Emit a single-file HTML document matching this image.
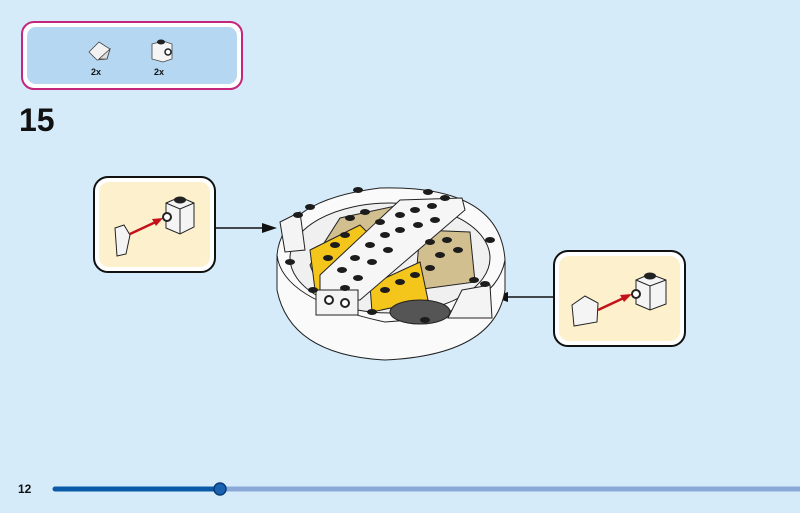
<!DOCTYPE html>
<html><head><meta charset="utf-8"><style>
html,body{margin:0;padding:0;background:#d5ebfa;}
svg{display:block}
</style></head><body>
<svg width="800" height="513" viewBox="0 0 800 513" xmlns="http://www.w3.org/2000/svg">
<rect width="800" height="513" fill="#d5ebfa"/>
<!-- parts box -->
<rect x="22" y="22" width="220" height="67" rx="12" fill="#fff" stroke="#c4267c" stroke-width="2"/>
<rect x="27" y="27" width="210" height="57" rx="9" fill="#b5d7f2"/>
<path d="M89 52 L99 42 L110 49 L107 59 L97 60 Z" fill="#f2f2f2" stroke="#444" stroke-width="0.8"/>
<path d="M99 59 L107 59 L110 49 Z" fill="#ddd" stroke="#444" stroke-width="0.8"/>
<text x="96" y="75" font-family="Liberation Sans, sans-serif" font-weight="bold" font-size="9" text-anchor="middle" fill="#111">2x</text>
<path d="M152 44 L163 41 L172 44 L172 59 L163 62 L152 59 Z" fill="#f5f5f5" stroke="#444" stroke-width="0.8"/>
<ellipse cx="161" cy="42" rx="4" ry="2.5" fill="#222"/>
<circle cx="168" cy="52" r="3" fill="#fff" stroke="#222" stroke-width="1.5"/>
<text x="159" y="75" font-family="Liberation Sans, sans-serif" font-weight="bold" font-size="9" text-anchor="middle" fill="#111">2x</text>
<text x="19" y="131" font-family="Liberation Sans, sans-serif" font-weight="bold" font-size="32" fill="#111">15</text>

<!-- left callout -->
<rect x="94" y="177" width="121" height="95" rx="14" fill="#fff" stroke="#111" stroke-width="2"/>
<rect x="99" y="182" width="111" height="85" rx="10" fill="#fdf1cd"/>
<path d="M115 228 L124 225 L130 235 L126 254 L117 256 Z" fill="#f4f4f4" stroke="#222" stroke-width="1"/>
<line x1="130" y1="234" x2="160" y2="220" stroke="#c4121a" stroke-width="2.5"/>
<path d="M163 218 L152 219 L156 226 Z" fill="#c4121a"/>
<path d="M166 203 L180 197 L194 203 L194 227 L180 234 L166 228 Z" fill="#f4f4f4" stroke="#222" stroke-width="1"/>
<path d="M166 203 L180 209 L194 203 M180 209 L180 234" fill="none" stroke="#222" stroke-width="1"/>
<ellipse cx="180" cy="200" rx="6" ry="3.5" fill="#222"/>
<circle cx="167" cy="217" r="4" fill="#fff" stroke="#222" stroke-width="2"/>
<line x1="216" y1="228" x2="265" y2="228" stroke="#111" stroke-width="1.5"/>
<path d="M277 228 L262 223 L262 233 Z" fill="#111"/>

<!-- right callout -->
<rect x="554" y="251" width="131" height="95" rx="14" fill="#fff" stroke="#111" stroke-width="2"/>
<rect x="559" y="256" width="121" height="85" rx="10" fill="#fdf1cd"/>
<path d="M572 305 L585 296 L598 303 L597 322 L574 326 Z" fill="#f4f4f4" stroke="#222" stroke-width="1"/>
<line x1="598" y1="310" x2="628" y2="296" stroke="#c4121a" stroke-width="2.5"/>
<path d="M632 294 L620 295 L624 302 Z" fill="#c4121a"/>
<path d="M636 280 L650 274 L666 280 L666 304 L650 310 L636 304 Z" fill="#f4f4f4" stroke="#222" stroke-width="1"/>
<path d="M636 280 L650 286 L666 280 M650 286 L650 310" fill="none" stroke="#222" stroke-width="1"/>
<ellipse cx="650" cy="276" rx="6" ry="3.5" fill="#222"/>
<circle cx="636" cy="294" r="4" fill="#fff" stroke="#222" stroke-width="2"/>
<line x1="553" y1="297" x2="505" y2="297" stroke="#111" stroke-width="1.5"/>
<path d="M493 297 L508 292 L508 302 Z" fill="#111"/>

<!-- model -->
<g stroke="#222" stroke-width="1">
<path d="M277 255 Q282 200 380 188 Q500 185 505 260 L505 290 Q495 355 385 360 Q290 355 277 290 Z" fill="#fafafa"/>
<path d="M277 255 Q282 300 385 322 Q495 315 505 260" fill="none"/>
<ellipse cx="390" cy="258" rx="100" ry="55" fill="#f0f0f0"/>
<path d="M310 265 L340 218 L400 205 L420 215 L360 290 L320 290 Z" fill="#d2bf8f"/>
<path d="M310 250 L360 225 L370 235 L325 290 L315 290 Z" fill="#f4c51a"/>
<path d="M420 230 L470 232 L475 282 L415 290 Z" fill="#d2bf8f"/>
<path d="M370 285 L420 262 L428 300 L372 312 Z" fill="#f4c51a"/>
<ellipse cx="420" cy="312" rx="30" ry="12" fill="#555"/>
<path d="M320 275 L400 200 L462 198 L465 210 L360 300 L320 300 Z" fill="#f6f6f6"/>
<rect x="316" y="290" width="42" height="25" fill="#f4f4f4"/>
<path d="M280 222 L300 212 L305 250 L285 252 Z" fill="#f4f4f4"/>
<path d="M462 290 L490 285 L492 318 L448 318 Z" fill="#f4f4f4"/>
</g>
<g fill="#1c1c1c">
<ellipse cx="358" cy="190" rx="5" ry="3"/><ellipse cx="428" cy="192" rx="5" ry="3"/><ellipse cx="445" cy="198" rx="5" ry="3"/>
<ellipse cx="310" cy="207" rx="5" ry="3"/><ellipse cx="298" cy="215" rx="5" ry="3"/><ellipse cx="490" cy="240" rx="5" ry="3"/>
<ellipse cx="290" cy="262" rx="5" ry="3"/><ellipse cx="485" cy="284" rx="5" ry="3"/><ellipse cx="372" cy="312" rx="5" ry="3"/>
<ellipse cx="425" cy="320" rx="5" ry="3"/><ellipse cx="474" cy="280" rx="5" ry="3"/><ellipse cx="313" cy="290" rx="5" ry="3"/>
<ellipse cx="350" cy="218" rx="5" ry="3"/><ellipse cx="365" cy="212" rx="5" ry="3"/><ellipse cx="380" cy="222" rx="5" ry="3"/>
<ellipse cx="400" cy="215" rx="5" ry="3"/><ellipse cx="415" cy="210" rx="5" ry="3"/><ellipse cx="432" cy="206" rx="5" ry="3"/>
<ellipse cx="385" cy="235" rx="5" ry="3"/><ellipse cx="400" cy="230" rx="5" ry="3"/><ellipse cx="418" cy="225" rx="5" ry="3"/>
<ellipse cx="435" cy="220" rx="5" ry="3"/><ellipse cx="370" cy="245" rx="5" ry="3"/><ellipse cx="388" cy="250" rx="5" ry="3"/>
<ellipse cx="355" cy="258" rx="5" ry="3"/><ellipse cx="372" cy="262" rx="5" ry="3"/><ellipse cx="342" cy="270" rx="5" ry="3"/>
<ellipse cx="358" cy="278" rx="5" ry="3"/><ellipse cx="345" cy="288" rx="5" ry="3"/>
<ellipse cx="430" cy="242" rx="5" ry="3"/><ellipse cx="447" cy="240" rx="5" ry="3"/><ellipse cx="440" cy="255" rx="5" ry="3"/>
<ellipse cx="458" cy="250" rx="5" ry="3"/><ellipse cx="385" cy="290" rx="5" ry="3"/><ellipse cx="400" cy="282" rx="5" ry="3"/>
<ellipse cx="415" cy="275" rx="5" ry="3"/><ellipse cx="430" cy="268" rx="5" ry="3"/>
<ellipse cx="328" cy="258" rx="5" ry="3"/><ellipse cx="335" cy="245" rx="5" ry="3"/><ellipse cx="345" cy="235" rx="5" ry="3"/>
</g>
<circle cx="329" cy="300" r="4" fill="#fff" stroke="#222" stroke-width="2"/>
<circle cx="345" cy="303" r="4" fill="#fff" stroke="#222" stroke-width="2"/>

<!-- footer -->
<text x="18" y="493" font-family="Liberation Sans, sans-serif" font-weight="bold" font-size="12" fill="#111">12</text>
<line x1="220" y1="489" x2="800" y2="489" stroke="#8aa8d8" stroke-width="5"/>
<line x1="55" y1="489" x2="220" y2="489" stroke="#0a5aa8" stroke-width="5" stroke-linecap="round"/>
<circle cx="220" cy="489" r="6" fill="#1a63b0" stroke="#0a3a78" stroke-width="1.5"/>
</svg>
</body></html>
